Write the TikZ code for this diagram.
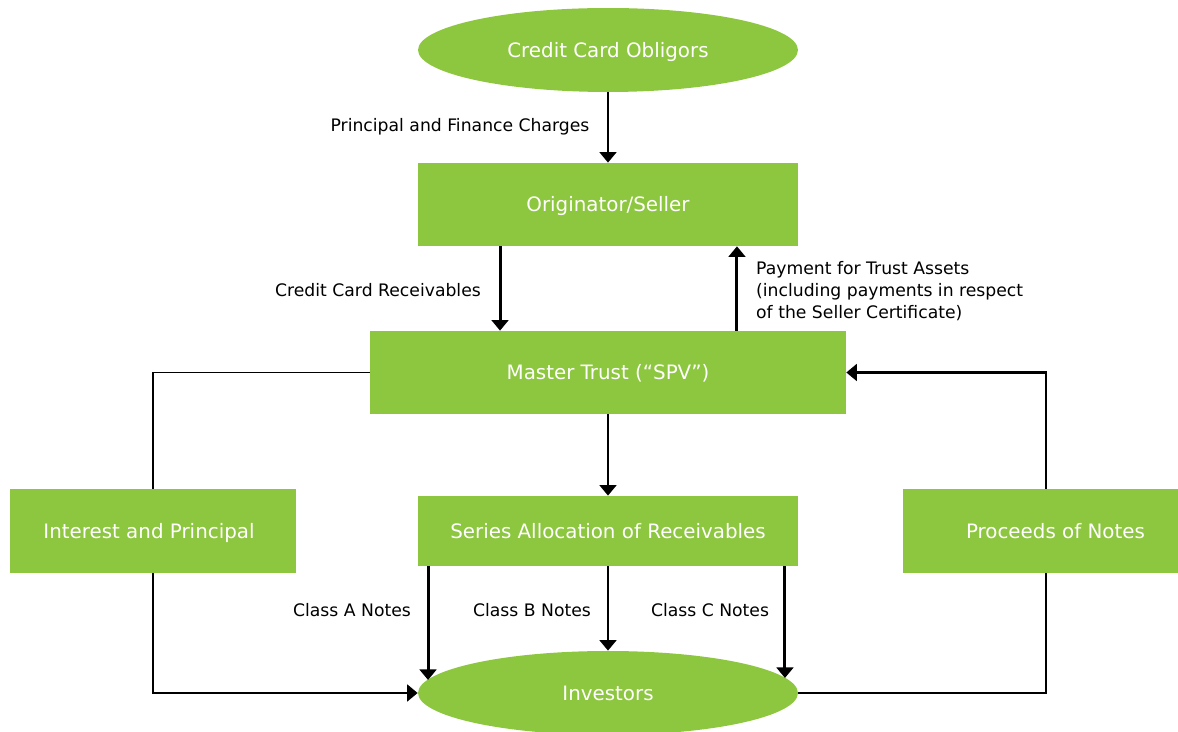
\documentclass[tikz,border=0pt]{standalone}
\usepackage{fontspec}
\setmainfont{DejaVu Sans}
\usetikzlibrary{shapes.geometric,arrows.meta}
\definecolor{leaf}{RGB}{141,198,63}
\begin{document}
\begin{tikzpicture}[x=0.02cm,y=-0.02cm,
  box/.style={fill=leaf,text=white,inner sep=0pt,text height=8.2pt,text depth=0pt,font=\fontsize{11.3}{13}\selectfont},
  oval/.style={box,ellipse,minimum width=7.6cm,minimum height=1.68cm},
  lbl/.style={font=\fontsize{9.8}{12.5}\selectfont,text height=7.2pt,text depth=0pt},
  tip/.style={-{Triangle[length=6pt,width=9.5pt]}},
  arr/.style={line width=1.7pt,tip},
  flow/.style={line width=1.7pt},
  wire/.style={line width=1pt}]
\useasboundingbox (0,0) rectangle (1178,732);
% nodes
\node[oval] (obl) at (608,50) {Credit Card Obligors};
\node[box,minimum width=7.6cm,minimum height=1.66cm] (orig) at (608,204.5) {Originator/Seller};
\node[box,minimum width=9.52cm,minimum height=1.66cm] (mt) at (608,372.5) {Master Trust (“SPV”)};
\node[box,minimum width=5.72cm,minimum height=1.68cm] (ip) at (153,531) {\hspace{-0.16cm}Interest and Principal};
\node[box,minimum width=7.6cm,minimum height=1.4cm] (sa) at (608,531) {Series Allocation of Receivables};
\node[box,minimum width=5.5cm,minimum height=1.68cm] (pn) at (1040.5,531) {\hspace{0.6cm}Proceeds of Notes};
\node[oval] (inv) at (608,693) {Investors};
% labels
\node[lbl] (pfc) at (460,125) {Principal and Finance Charges};
\node[lbl] (ccr) at (378,290) {Credit Card Receivables};
\node[font=\fontsize{9.8}{12.5}\selectfont,anchor=west,align=left] (pay) at (750,291) {Payment for Trust Assets\\(including payments in respect\\of the Seller Certificate)};
\node[lbl] (cla) at (352,610) {Class A Notes};
\node[lbl] (clb) at (532,610) {Class B Notes};
\node[lbl] (clc) at (710,610) {Class C Notes};
% connectors
\draw[arr] (obl) -- (orig);
\draw[arr] ([xshift=-2.16cm]orig.south) -- ([xshift=-2.16cm]orig.south |- mt.north);
\draw[arr] ([xshift=2.58cm]orig.south |- mt.north) -- ([xshift=2.58cm]orig.south);
\draw[arr] (mt) -- (sa);
\draw[wire] (mt.west) -- (ip.north |- mt.west);
\draw[flow] (ip.north |- mt.west) -- (ip.north);
\draw[flow,tip] ([xshift=0.11cm]pn.north) |- (mt.east);
\draw[flow,tip] (ip.south) |- (inv.west);
\draw[arr] ([xshift=-3.6cm]sa.south) -- ([xshift=-3.6cm,yshift=0.26cm]inv.center);
\draw[arr] (sa) -- (inv);
\draw[arr] ([xshift=3.54cm]sa.south) -- ([xshift=3.54cm,yshift=0.3cm]inv.center);
\draw[wire] (inv.east) -| ([xshift=0.11cm]pn.south);
\end{tikzpicture}
\end{document}
